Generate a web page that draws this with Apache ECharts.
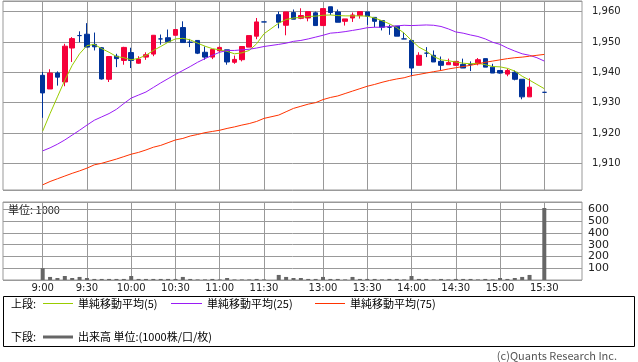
<!DOCTYPE html>
<html><head><meta charset="utf-8">
<script src="https://cdn.jsdelivr.net/npm/echarts@6/dist/echarts.min.js"></script>
<style>html,body{margin:0;padding:0;background:#fff}#c{width:638px;height:362px}</style>
</head><body><div id="c"></div><script>
const times = ['9:00','9:05','9:10','9:15','9:20','9:25','9:30','9:35','9:40','9:45','9:50','9:55',
 '10:00','10:05','10:10','10:15','10:20','10:25','10:30','10:35','10:40','10:45','10:50','10:55',
 '11:00','11:05','11:10','11:15','11:20','11:25','11:30','',
 '12:30','12:35','12:40','12:45','12:50','12:55',
 '13:00','13:05','13:10','13:15','13:20','13:25','13:30','13:35','13:40','13:45','13:50','13:55',
 '14:00','14:05','14:10','14:15','14:20','14:25','14:30','14:35','14:40','14:45','14:50','14:55',
 '15:00','15:05','15:10','15:15','15:20','15:25','15:30'];
const tickLabels = ['9:00','9:30','10:00','10:30','11:00','11:30','13:00','13:30','14:00','14:30','15:00','15:30'];

const openP = [1939.0,1934.5,1939.75,1936.8,1948.0,1952.1,1952.55,1949.2,1948.1,1937.7,1945.3,1943.9,
 1946.5,1943.0,1945.0,1946.0,1951.0,1951.4,1952.2,1954.75,1949.9,1950.5,1946.6,1945.0,
 1947.1,1947.4,1943.3,1944.15,1948.3,1951.9,1956.6,null,
 1959.0,1955.5,1959.7,1957.8,1957.9,1959.6,
 1955.4,1961.6,1959.9,1956.8,1957.9,1958.7,1959.9,1958.1,1957.05,1954.85,1955.2,1951.0,
 1950.5,1942.3,1946.3,1945.6,1943.6,1942.5,1942.3,1942.6,1942.6,1942.8,1944.5,1941.7,
 1940.6,1939.4,1940.0,1937.7,1931.9,null,1933.4];
const closeP = [1933.2,1939.75,1938.4,1948.6,1951.1,1952.1,1948.3,1948.4,1937.8,1945.2,1944.5,1948.2,
 1943.9,1944.35,1945.8,1952.2,1951.0,1950.05,1954.1,1949.8,1949.9,1946.3,1945.0,1947.5,
 1948.2,1943.4,1944.25,1948.5,1952.1,1956.6,1956.6,null,
 1956.5,1959.9,1957.5,1958.7,1960.0,1955.4,
 1961.0,1959.7,1956.5,1957.6,1958.9,1960.0,1958.5,1956.8,1954.85,1954.85,1951.9,1951.0,
 1941.4,1945.6,1946.3,1943.4,1942.3,1943.2,1943.6,1941.4,1942.6,1944.15,1941.7,1939.75,
 1939.75,1940.6,1937.7,1931.9,1935.1,null,1933.4];
const lowP = [1925.0,1934.5,1935.6,1935.4,1943.4,1949.9,1948.3,1947.2,1937.6,1936.8,1941.7,1942.5,
 1941.4,1942.8,1944.1,1945.3,1949.1,1950.0,1952.2,1949.8,1948.3,1946.0,1944.15,1944.35,
 1946.6,1942.5,1942.8,1943.6,1948.3,1950.9,1956.6,null,
 1954.5,1952.2,1957.5,1957.5,1956.8,1955.4,
 1955.4,1958.9,1956.5,1955.4,1956.6,1957.7,1955.6,1954.85,1953.8,1952.35,1951.9,1951.0,
 1938.7,1942.3,1945.0,1943.4,1940.6,1942.5,1942.1,1941.4,1940.4,1942.3,1941.7,1939.75,
 1939.55,1938.7,1937.35,1931.1,1931.9,null,1933.4];
const highP = [1940.1,1941.0,1940.3,1949.4,1951.6,1953.5,1956.2,1953.1,1948.3,1945.3,1946.1,1948.4,
 1948.1,1945.3,1946.6,1952.3,1952.45,1954.1,1954.1,1956.8,1951.0,1950.5,1948.5,1947.5,
 1948.5,1947.4,1945.5,1948.5,1952.1,1957.9,1956.6,null,
 1960.0,1959.9,1960.7,1961.1,1960.0,1960.0,
 1961.0,1961.6,1960.7,1957.6,1959.7,1960.0,1959.9,1958.1,1957.05,1955.7,1955.2,1953.2,
 1950.5,1946.6,1948.3,1947.2,1945.2,1944.5,1943.7,1944.5,1943.6,1944.7,1944.5,1942.8,
 1940.6,1941.2,1940.6,1937.7,1938.0,null,1933.4];
const volume = [100,26,17,34,17,26,17,9,9,9,9,9,34,9,9,9,9,9,9,26,9,5,5,9,5,17,5,5,5,9,5,null,
 43,26,17,17,9,9,26,9,9,5,26,9,9,9,5,9,9,5,34,9,9,5,9,5,9,9,9,5,9,5,17,9,17,26,43,null,612];
const ma5 = [1920.6,1926.4,1931.9,1937.4,1942.3,1946.1,1948.8,1949.2,1947.8,1946.6,1945.2,1944.8,
 1944.1,1944.6,1945.6,1947.2,1948.5,1949.9,1951.0,1951.2,1950.7,1949.6,1948.6,1947.8,
 1947.4,1946.9,1946.1,1946.4,1947.2,1949.4,1952.7,null,
 1956.2,1957.4,1957.9,1958.1,1958.4,1958.5,
 1958.8,1958.9,1958.7,1958.6,1958.6,1958.6,1958.5,1957.9,1957.0,1956.0,1954.7,1952.9,
 1950.5,1948.3,1947.0,1945.2,1944.1,1943.8,1943.4,1943.0,1942.8,1943.0,1942.5,1941.9,
 1941.8,1941.3,1940.4,1938.7,1937.4,1936.0,1934.6];
const ma25 = [1914.1,1915.1,1916.3,1917.7,1919.3,1920.9,1922.6,1924.2,1925.3,1926.4,1927.8,1929.7,
 1931.5,1932.5,1933.5,1935.0,1936.5,1937.9,1939.3,1940.6,1941.9,1943.3,1944.5,1945.6,
 1946.6,1947.2,1947.2,1947.4,1947.6,1948.0,1948.5,null,
 1949.2,1949.6,1950.2,1950.5,1951.0,1951.6,
 1952.2,1952.9,1953.1,1953.4,1953.8,1954.2,1954.7,1954.85,1954.85,1955.1,1955.3,1955.5,
 1955.4,1955.5,1955.6,1955.5,1955.1,1954.3,1953.3,1952.9,1952.3,1951.8,1951.0,1949.9,
 1949.2,1948.0,1947.0,1946.1,1945.6,1944.8,1943.7];
const ma75 = [1902.9,1904.0,1904.9,1905.8,1906.7,1907.5,1908.4,1909.5,1910.0,1910.7,1911.4,1912.2,
 1913.0,1913.6,1914.4,1915.3,1915.9,1916.8,1917.7,1918.2,1919.0,1919.5,1920.1,1920.5,
 1920.9,1921.5,1922.0,1922.6,1923.1,1923.8,1924.8,null,
 1925.9,1927.0,1928.1,1928.8,1929.5,1930.0,
 1931.0,1931.7,1932.2,1933.0,1933.8,1934.6,1935.4,1936.0,1936.7,1937.3,1937.8,1938.2,
 1938.9,1939.3,1939.75,1940.2,1940.6,1941.1,1941.5,1941.9,1942.3,1942.8,1943.3,1943.7,
 1944.1,1944.5,1944.8,1945.0,1945.3,1945.6,1945.9];

const RED = '#f5003a', BLUE = '#003399';
const tickIdx = tickLabels.map(t => times.indexOf(t));
const candleData = [];
times.forEach((t, i) => {
  if (openP[i] == null) return;
  const item = { value: [i, openP[i], closeP[i], lowP[i], highP[i]] };
  if (openP[i] === closeP[i]) item.itemStyle = { color: BLUE, borderColor: BLUE, color0: BLUE, borderColor0: BLUE };
  candleData.push(item);
});
const lineData = arr => times.map((t, i) => [i, arr[i]]).filter(p => p[1] != null);
const volData = times.map((t, i) => [i, volume[i]]).filter(p => p[1] != null);

const FONT = '"DejaVu Sans", Verdana, sans-serif';
const JP = '"Noto Sans CJK JP", sans-serif';
const xAx = g => ({
  type: 'value', gridIndex: g, min: -5.38, max: 73.11,
  axisLine: { show: false },
  axisTick: { show: false, customValues: tickIdx },
  splitLine: { show: true, lineStyle: { color: '#999', width: 1 } },
  axisLabel: { show: g === 1, customValues: tickIdx, margin: 3, fontSize: 10, color: '#222', fontFamily: FONT,
    formatter: v => times[Math.round(v)] }
});

const chart = echarts.init(document.getElementById('c'));
chart.setOption({
  animation: false,
  backgroundColor: '#fff',
  grid: [
    { left: 3, top: 1, width: 579, height: 189, show: true, borderColor: '#999', borderWidth: 1 },
    { left: 3, top: 202, width: 579, height: 78, show: true, borderColor: '#999', borderWidth: 1 }
  ],
  xAxis: [xAx(0), xAx(1)],
  yAxis: [
    { type: 'value', gridIndex: 0, position: 'right', min: 1901.2, max: 1963.5, splitNumber: 6,
      minInterval: 10, maxInterval: 10,
      axisLine: { show: false }, axisTick: { show: false },
      splitLine: { lineStyle: { color: '#999' } },
      axisLabel: { showMinLabel: false, showMaxLabel: false, margin: 10, fontSize: 10, color: '#222', fontFamily: FONT,
        formatter: v => Math.round(v).toLocaleString('en-US') } },
    { type: 'value', gridIndex: 1, position: 'right', min: 0, max: 663, interval: 100,
      axisLine: { show: false }, axisTick: { show: true, length: 3, lineStyle: { color: '#999' } },
      splitLine: { lineStyle: { color: '#999' } },
      axisLabel: { showMinLabel: false, showMaxLabel: false, margin: 6, fontSize: 11, color: '#222', fontFamily: FONT } }
  ],
  series: [
    { type: 'candlestick', xAxisIndex: 0, yAxisIndex: 0, barWidth: 5, data: candleData,
      itemStyle: { color: RED, color0: BLUE, borderColor: RED, borderColor0: BLUE, borderWidth: 1 } },
    { type: 'line', xAxisIndex: 0, yAxisIndex: 0, data: lineData(ma5), symbol: 'none', lineStyle: { color: '#99cc00', width: 1 } },
    { type: 'line', xAxisIndex: 0, yAxisIndex: 0, data: lineData(ma25), symbol: 'none', lineStyle: { color: '#9a1cf5', width: 1 } },
    { type: 'line', xAxisIndex: 0, yAxisIndex: 0, data: lineData(ma75), symbol: 'none', lineStyle: { color: '#ff3300', width: 1 } },
    { type: 'bar', xAxisIndex: 1, yAxisIndex: 1, barWidth: 4, data: volData, itemStyle: { color: '#666' } }
  ],
  graphic: [
    { type: 'text', x: 8, y: 210, z: -1, style: { text: '単位: 1000', font: '11px ' + JP, fill: '#222', verticalAlign: 'middle' } },
    { type: 'rect', shape: { x: 3.5, y: 296.5, width: 631, height: 50 }, style: { fill: 'none', stroke: '#000', lineWidth: 1 } },
    { type: 'text', x: 11, y: 304, style: { text: '上段:', font: '11px ' + JP, fill: '#000', verticalAlign: 'middle' } },
    { type: 'line', shape: { x1: 43, y1: 303.5, x2: 73, y2: 303.5 }, style: { stroke: '#99cc00', lineWidth: 1 } },
    { type: 'text', x: 78, y: 304, style: { text: '単純移動平均(5)', font: '11px ' + JP, fill: '#000', verticalAlign: 'middle' } },
    { type: 'line', shape: { x1: 171, y1: 303.5, x2: 202, y2: 303.5 }, style: { stroke: '#9a1cf5', lineWidth: 1 } },
    { type: 'text', x: 207, y: 304, style: { text: '単純移動平均(25)', font: '11px ' + JP, fill: '#000', verticalAlign: 'middle' } },
    { type: 'line', shape: { x1: 315, y1: 303.5, x2: 345, y2: 303.5 }, style: { stroke: '#ff3300', lineWidth: 1 } },
    { type: 'text', x: 350, y: 304, style: { text: '単純移動平均(75)', font: '11px ' + JP, fill: '#000', verticalAlign: 'middle' } },
    { type: 'text', x: 11, y: 337, style: { text: '下段:', font: '11px ' + JP, fill: '#000', verticalAlign: 'middle' } },
    { type: 'line', shape: { x1: 43, y1: 337, x2: 73, y2: 337 }, style: { stroke: '#666', lineWidth: 3 } },
    { type: 'text', x: 78, y: 337, style: { text: '出来高 単位:(1000株/口/枚)', font: '11px ' + JP, fill: '#000', verticalAlign: 'middle' } },
    { type: 'text', x: 617, y: 356, style: { text: '(c)Quants Research Inc.', font: '11px ' + JP, fill: '#555', align: 'right', verticalAlign: 'middle' } }
  ]
});
</script></body></html>
